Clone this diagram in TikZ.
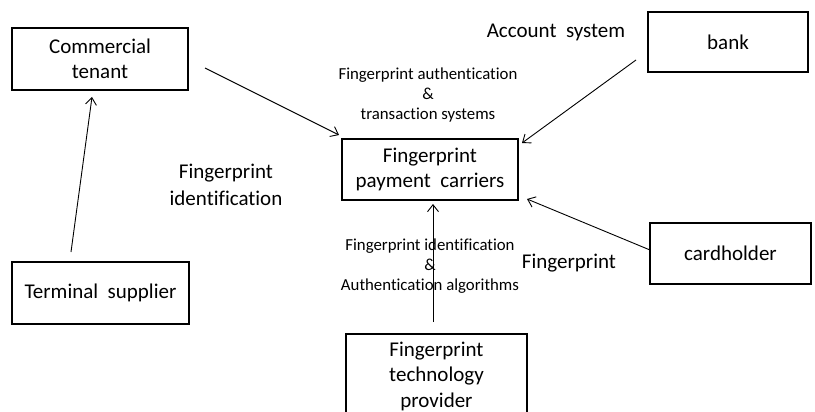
\documentclass[tikz,border=0pt]{standalone}
\usepackage{fontspec}
\setmainfont{Carlito}[Ligatures=NoCommon]
\usetikzlibrary{arrows.meta}
\begin{document}
\begin{tikzpicture}[x=1pt,y=-1pt,
  box/.style={draw=black,line width=1.8pt,align=center,inner sep=0pt,
    font=\fontsize{21}{25.5}\selectfont},
  big/.style={align=center,inner sep=0pt,font=\fontsize{21}{26.5}\selectfont},
  small/.style={align=center,inner sep=0pt,font=\fontsize{16.8}{19.8}\selectfont},
  arr/.style={line width=0.9pt,-{Straight Barb[length=7pt,width=11pt]}}]
\useasboundingbox (0,0) rectangle (815,412);
\node[box,minimum width=176pt,minimum height=62pt] (tenant) at (100,59) {Commercial\\tenant};
\node[box,minimum width=160pt,minimum height=60pt] (bank) at (728,42) {bank};
\node[box,minimum width=176pt,minimum height=61pt] (carriers) at (430,169.5) {Fingerprint\\payment\ \ carriers};
\node[box,minimum width=161pt,minimum height=61pt] (cardholder) at (730.5,253.5) {cardholder};
\node[box,minimum width=177pt,minimum height=62pt] (terminal) at (100.5,293) {Terminal\ \ supplier};
\node[box,minimum width=181pt,minimum height=84pt] (provider) at (436.5,376) {Fingerprint\\technology\\provider};

\node[big] (acct) at (556,32) {Account\ \ system};
\node[small] (lab1) at (428,95) {Fingerprint authentication\\\&\\transaction systems};
\node[big] (lab2) at (226,185) {Fingerprint\\identification};
\node[small] (lab3) at (430,266) {Fingerprint identification\\\&\\Authentication algorithms};
\node[big] (lab4) at (569,263) {Fingerprint};

\coordinate (a1) at (71,252);  \coordinate (a2) at (92,97);
\coordinate (b1) at (205,68);  \coordinate (b2) at (339,135);
\coordinate (c1) at (636,60);  \coordinate (c2) at (522,143);
\coordinate (d1) at (650,250); \coordinate (d2) at (527,199);
\coordinate (e1) at (433,322); \coordinate (e2) at (433,204);
\draw[arr] (a1) -- (a2);
\draw[arr] (b1) -- (b2);
\draw[arr] (c1) -- (c2);
\draw[arr] (d1) -- (d2);
\draw[arr] (e1) -- (e2);
\end{tikzpicture}
\end{document}
